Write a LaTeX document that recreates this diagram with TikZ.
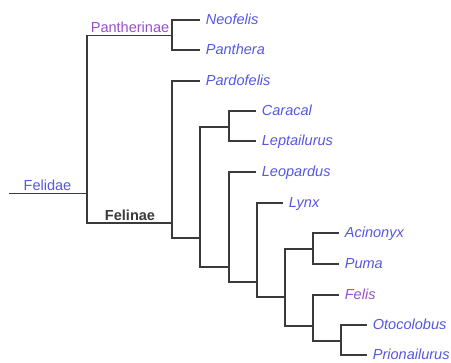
\documentclass[tikz,border=0pt]{standalone}
\usepackage{fontspec}
\setmainfont{Liberation Sans}
\definecolor{linkblue}{HTML}{5656E2}
\definecolor{linkpurple}{HTML}{9650C8}
\definecolor{branch}{HTML}{3A3A3A}
\begin{document}
\begin{tikzpicture}[x=0.75pt,y=-0.75pt,
  br/.style={draw=branch,line width=0.95pt},
  leaf/.style={anchor=west,inner xsep=4.2pt,inner ysep=0pt,text height=0.716em,text depth=0pt,
    font=\fontsize{10.9pt}{12pt}\selectfont\itshape,text=linkblue},
  leafv/.style={leaf,text=linkpurple},
  clade/.style={anchor=base,inner sep=0pt,font=\fontsize{10.9pt}{12pt}\selectfont}]
\useasboundingbox (0,0) rectangle (451,363);
% branch points
\coordinate (r0) at (9,193.5);
\coordinate (root) at (87,193.5);
\coordinate (pan) at (172,35.5);
\coordinate (fel) at (172,223);
\coordinate (c1) at (200,238);
\coordinate (c2) at (229,127);
\coordinate (c3) at (229,267);
\coordinate (c4) at (257,282);
\coordinate (c5) at (285,297);
\coordinate (c6) at (313,249);
\coordinate (c7) at (313,326);
\coordinate (c8) at (341,341);
% clade labels
\node[clade,text=linkblue] (lFelidae) at (47.5,191) {Felidae};
\node[clade,text=linkpurple] (lPan) at (130,32.5) {Pantherinae};
\node[clade,text=branch,font=\fontsize{10.9pt}{12pt}\selectfont\bfseries] (lFel) at (130,220.7) {Felinae};
% leaves
\node[leaf] (neo) at (200,20) {Neofelis};
\node[leaf] (pant) at (200,50) {Panthera};
\node[leaf] (pard) at (200,81) {Pardofelis};
\node[leaf] (cara) at (256,111) {Caracal};
\node[leaf] (lept) at (256,141) {Leptailurus};
\node[leaf] (leop) at (256,172) {Leopardus};
\node[leaf] (lynx) at (283,203) {Lynx};
\node[leaf] (acin) at (339,233) {Acinonyx};
\node[leaf] (puma) at (339,264) {Puma};
\node[leafv] (feli) at (339,295) {Felis};
\node[leaf] (otoc) at (367,325) {Otocolobus};
\node[leaf] (prio) at (367,355) {Prionailurus};
% branches
\draw[br] (r0) -- (root);
\draw[br] (root) |- (pan);
\draw[br] (root) |- (fel);
\draw[br] (pan) |- (neo.west);
\draw[br] (pan) |- (pant.west);
\draw[br] (fel) |- (pard.west);
\draw[br] (fel) |- (c1);
\draw[br] (c1) |- (c2);
\draw[br] (c1) |- (c3);
\draw[br] (c2) |- (cara.west);
\draw[br] (c2) |- (lept.west);
\draw[br] (c3) |- (leop.west);
\draw[br] (c3) |- (c4);
\draw[br] (c4) |- (lynx.west);
\draw[br] (c4) |- (c5);
\draw[br] (c5) |- (c6);
\draw[br] (c5) |- (c7);
\draw[br] (c6) |- (acin.west);
\draw[br] (c6) |- (puma.west);
\draw[br] (c7) |- (feli.west);
\draw[br] (c7) |- (c8);
\draw[br] (c8) |- (otoc.west);
\draw[br] (c8) |- (prio.west);
\end{tikzpicture}
\end{document}
